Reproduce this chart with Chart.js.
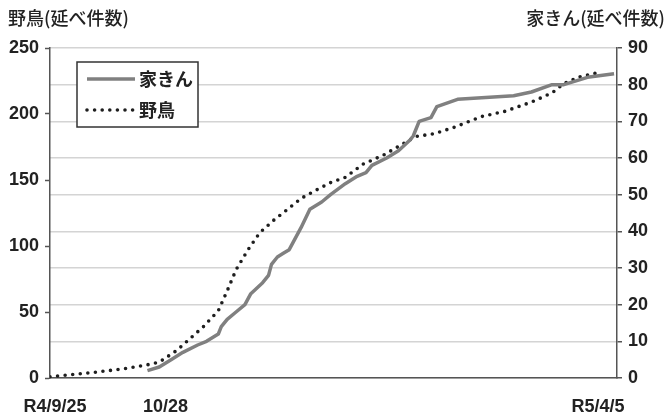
<!DOCTYPE html>
<html>
<head>
<meta charset="utf-8">
<script src="https://cdn.jsdelivr.net/npm/chart.js@4.4.1/dist/chart.umd.min.js"></script>
<style>
  html, body { margin: 0; padding: 0; background: #ffffff; }
  #wrap { width: 669px; height: 414px; }
</style>
</head>
<body>
<div id="wrap"><canvas id="c" width="669" height="414"></canvas></div>
<script>
// Days counted from R4/9/25 (day 0) to R5/4/5 (day 192)
const xMinDay = 0;
const xMaxDay = 192;
const xTickDays = [0, 33, 192];
const xTickLabels = ['R4/9/25', '10/28', 'R5/4/5'];

// Wild birds: cumulative cases (left axis)
const wildDays   = [0, 14, 25, 33, 37, 43, 47, 52, 57, 60, 63, 67, 71, 76, 80, 85, 89, 95, 100, 106, 113, 120, 124, 130, 137, 146, 154, 163, 170, 174, 179, 185];
const wildCounts = [1, 4, 7, 10, 12, 21, 29, 39, 51, 66, 82, 97, 110, 120, 127, 136, 141, 148, 152, 162, 169, 178, 183, 185, 190, 198, 202, 209, 216, 223, 228, 231];

// Poultry: cumulative cases (right axis)
const poultryDays   = [33, 37, 41, 45, 50, 53, 57, 58, 60, 63, 66, 68, 72, 74, 75, 77, 79, 81, 85, 88, 92, 95, 100, 104, 107, 109, 114, 118, 122, 123, 125, 129, 131, 138, 157, 163, 170, 174, 182, 191];
const poultryCounts = [2, 3, 5, 7, 9, 10, 12, 14, 16, 18, 20, 23, 26, 28, 31, 33, 34, 35, 41, 46, 48, 50, 53, 55, 56, 58, 60, 62, 65, 66, 70, 71, 74, 76, 77, 78, 80, 80, 82, 83];

// Axis ranges and tick steps
const wildAxisMax = 250, wildAxisStep = 50;
const poultryAxisMax = 90, poultryAxisStep = 10;

// Axis titles
const wildAxisTitle = '野鳥(延べ件数)';
const poultryAxisTitle = '家きん(延べ件数)';

// Horizontal nudges for the date labels under the axis
const xLabelNudge = [5, 18, -19];

const numFont = { family: '"Liberation Sans Narrow", "Liberation Sans", Arial, sans-serif', size: 18, weight: 'bold' };
const jpFont = '500 18px "Noto Sans CJK JP", sans-serif';
const jpLegendFont = 'bold 18px "Noto Sans CJK JP", sans-serif';
const axisColor = '#555555';
const textColor = '#222222';

const zip = (xs, ys) => xs.map((x, i) => ({ x: x, y: ys[i] }));

const fixWidth = w => s => { s.width = w; s.paddingTop = 0; s.paddingBottom = 0; };

const labelNudgePlugin = {
  id: 'labelNudge',
  beforeDraw(chart) {
    const sc = chart.scales.x;
    const items = sc.getLabelItems();
    if (items._nudged) return;
    items.forEach((it, i) => { it.options.translation[0] += (xLabelNudge[i] || 0); });
    items._nudged = true;
  }
};

const headerPlugin = {
  id: 'axisHeaders',
  afterDraw(chart) {
    const ctx = chart.ctx;
    ctx.save();
    ctx.font = jpFont;
    ctx.fillStyle = textColor;
    ctx.textBaseline = 'middle';
    ctx.textAlign = 'left';
    ctx.fillText(wildAxisTitle, 8, 18);
    ctx.textAlign = 'right';
    ctx.fillText(poultryAxisTitle, 665, 18);
    ctx.restore();
  }
};

const boxLegendPlugin = {
  id: 'boxLegend',
  afterDraw(chart) {
    const ctx = chart.ctx;
    const a = chart.chartArea;
    const bx = a.left + 27, by = a.top + 14, bw = 121, bh = 65;
    ctx.save();
    ctx.fillStyle = '#ffffff';
    ctx.fillRect(bx, by, bw, bh);
    ctx.strokeStyle = '#333333';
    ctx.lineWidth = 1.5;
    ctx.strokeRect(bx, by, bw, bh);
    chart.data.datasets.forEach((ds, i) => {
      const yy = by + 17 + i * 31;
      ctx.beginPath();
      ctx.strokeStyle = ds.borderColor;
      ctx.lineWidth = ds.borderWidth;
      ctx.lineCap = ds.borderCapStyle || 'butt';
      ctx.setLineDash(ds.borderDash || []);
      ctx.moveTo(bx + 10, yy);
      ctx.lineTo(bx + 58, yy);
      ctx.stroke();
      ctx.setLineDash([]);
      ctx.fillStyle = textColor;
      ctx.font = jpLegendFont;
      ctx.textAlign = 'left';
      ctx.textBaseline = 'middle';
      ctx.fillText(ds.label, bx + 62, yy);
    });
    ctx.restore();
  }
};

new Chart(document.getElementById('c'), {
  type: 'line',
  data: {
    datasets: [
      {
        label: '家きん',
        data: zip(poultryDays, poultryCounts),
        yAxisID: 'yP',
        borderColor: '#808080',
        borderWidth: 3.5,
        borderCapStyle: 'butt',
        borderJoinStyle: 'round',
        pointRadius: 0,
        tension: 0,
        fill: false
      },
      {
        label: '野鳥',
        data: zip(wildDays, wildCounts),
        yAxisID: 'yW',
        borderColor: '#1e1e1e',
        borderWidth: 3.6,
        borderDash: [0, 7.6],
        borderCapStyle: 'round',
        pointRadius: 0,
        tension: 0,
        fill: false
      }
    ]
  },
  options: {
    responsive: false,
    devicePixelRatio: 1,
    animation: false,
    layout: { padding: { top: 48, left: 0, right: 0, bottom: 0 } },
    plugins: {
      legend: { display: false },
      tooltip: { enabled: false },
      title: { display: false }
    },
    scales: {
      x: {
        type: 'linear',
        min: xMinDay,
        max: xMaxDay,
        afterBuildTicks: s => { s.ticks = xTickDays.map(v => ({ value: v })); },
        afterFit: s => { s.height = 36; s.paddingLeft = 0; s.paddingRight = 0; },
        ticks: {
          autoSkip: false,
          maxRotation: 0,
          padding: 18,
          color: textColor,
          font: numFont,
          callback: v => xTickLabels[xTickDays.indexOf(v)]
        },
        grid: { drawOnChartArea: false, drawTicks: false },
        border: { display: true, color: axisColor, width: 1.5 }
      },
      yW: {
        type: 'linear',
        position: 'left',
        min: 0,
        max: wildAxisMax,
        afterFit: fixWidth(50),
        ticks: { stepSize: wildAxisStep, padding: 6, color: textColor, font: numFont },
        grid: { drawOnChartArea: false, drawTicks: true, tickLength: 5, tickColor: axisColor, tickWidth: 1.5 },
        border: { display: true, color: axisColor, width: 1.5 }
      },
      yP: {
        type: 'linear',
        position: 'right',
        min: 0,
        max: poultryAxisMax,
        afterFit: fixWidth(52),
        ticks: { stepSize: poultryAxisStep, padding: 6, color: textColor, font: numFont },
        grid: { drawOnChartArea: true, color: '#d4d4d4', lineWidth: 1.5, drawTicks: true, tickLength: 5, tickColor: axisColor, tickWidth: 1.5 },
        border: { display: true, color: axisColor, width: 1.5 }
      }
    }
  },
  plugins: [labelNudgePlugin, headerPlugin, boxLegendPlugin]
});
</script>
</body>
</html>
